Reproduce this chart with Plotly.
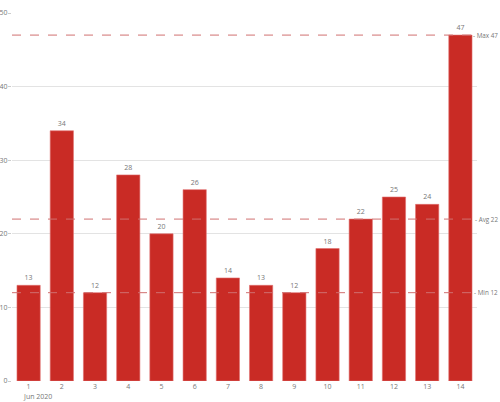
import plotly.graph_objects as go

days = list(range(1, 15))
day_labels = [str(d) for d in days]
values = [13, 34, 12, 28, 20, 26, 14, 13, 12, 18, 22, 25, 24, 47]
period_label = "Jun 2020"
y_ticks = [0, 10, 20, 30, 40, 50]

vmax = max(values)
vmin = min(values)
vavg = round(sum(values) / len(values))
ref_lines = [("Max", vmax), ("Avg", vavg), ("Min", vmin)]

gray = "#777777"
font_family = "Open Sans"

fig = go.Figure()
fig.add_trace(go.Bar(
    x=days, y=values,
    marker=dict(color="#c92b25", line=dict(color="#e07070", width=0.6)),
    text=[str(v) for v in values],
    textposition="outside",
    textfont=dict(size=7, color=gray, family=font_family),
    cliponaxis=False,
    width=0.7,
))

for name, val in ref_lines:
    fig.add_shape(type="line", xref="paper", yref="y", x0=0, x1=1.0, y0=val, y1=val,
                  line=dict(color="#d07070", width=1, dash="dash"))
    fig.add_annotation(xref="paper", yref="y", x=1, y=val, xanchor="right",
                       text=f"- {name} {val}", showarrow=False, xshift=23,
                       font=dict(size=6.3, color=gray, family=font_family))

fig.add_annotation(xref="x", yref="paper", x=1, y=0, yshift=-9, xanchor="center", yanchor="top",
                   xshift=9, text=period_label, showarrow=False,
                   font=dict(size=7, color=gray, family=font_family))

fig.update_layout(
    width=500, height=402,
    margin=dict(l=12, r=23, t=13, b=21),
    plot_bgcolor="white", paper_bgcolor="white",
    showlegend=False,
    font=dict(family=font_family, size=7, color=gray),
    bargap=0.3,
)
fig.update_xaxes(range=[0.5, 14.5], tickmode="array", tickvals=days, ticktext=day_labels,
                 showgrid=False, zeroline=False, showline=False,
                 tickfont=dict(size=7, color=gray), automargin=False, ticklen=0)
fig.update_yaxes(range=[0, 50], tickmode="array", tickvals=y_ticks,
                 showgrid=True, gridcolor="#e3e3e3", gridwidth=1, zeroline=False,
                 ticks="outside", ticklen=3, tickcolor="#cccccc",
                 ticklabelstandoff=-1,
                 tickfont=dict(size=7, color=gray), automargin=False)

fig.write_html("out.html", config={"displayModeBar": False},
               post_script="document.body.style.margin='0';document.body.style.overflow='hidden';")
